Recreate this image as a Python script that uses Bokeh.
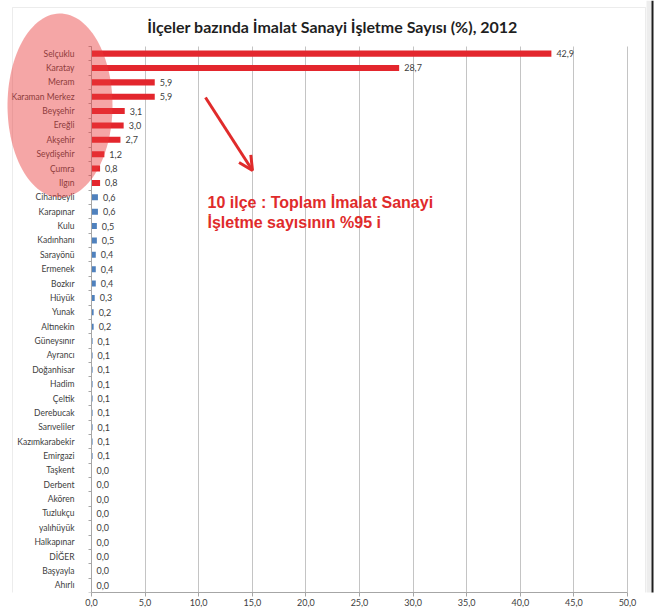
import numpy as np
from bokeh.plotting import figure
from bokeh.models import (ColumnDataSource, Range1d, FixedTicker, Label, LinearAxis, Grid,
                          Arrow, OpenHead, PolyAnnotation, BoxAnnotation)
from bokeh.core.properties import value
from bokeh.embed import file_html
from bokeh.resources import INLINE

districts = ["Selçuklu", "Karatay", "Meram", "Karaman Merkez", "Beyşehir", "Ereğli",
             "Akşehir", "Seydişehir", "Çumra", "Ilgın", "Cihanbeyli", "Karapınar", "Kulu",
             "Kadınhanı", "Sarayönü", "Ermenek", "Bozkır", "Hüyük", "Yunak", "Altınekin",
             "Güneysınır", "Ayrancı", "Doğanhisar", "Hadim", "Çeltik", "Derebucak",
             "Sarıveliler", "Kazımkarabekir", "Emirgazi", "Taşkent", "Derbent", "Akören",
             "Tuzlukçu", "yalıhüyük", "Halkapınar", "DİĞER", "Başyayla", "Ahırlı"]
shares = [42.9, 28.7, 5.9, 5.9, 3.1, 3.0, 2.7, 1.2, 0.8, 0.8, 0.6, 0.6, 0.5, 0.5, 0.4,
          0.4, 0.4, 0.3, 0.2, 0.2, 0.1, 0.1, 0.1, 0.1, 0.1, 0.1, 0.1, 0.1, 0.1, 0.0, 0.0,
          0.0, 0.0, 0.0, 0.0, 0.0, 0.0, 0.0]
highlight_count = 10
x_ticks = [0, 5, 10, 15, 20, 25, 30, 35, 40, 45, 50]
title_text = "İlçeler bazında İmalat Sanayi İşletme Sayısı (%), 2012"
note_lines = ["10 ilçe : Toplam İmalat Sanayi", "İşletme sayısının  %95 i"]

RED = "#E3262D"
BLUE = "#4F81BD"
NOTE_RED = "#E02B2B"
GRID = "#C4C4C4"
AXIS = "#A6A6A6"
LABEL = "#404040"

n = len(districts)
rows = list(range(n))
colors = [RED if i < highlight_count else BLUE for i in rows]
labels = [f"{v:.1f}".replace(".", ",") for v in shares]
src = ColumnDataSource(dict(k=rows, v=shares, c=colors, lab=labels))

# layout constants (pixels)
W, H = 664, 615
X0_PX, X50_PX = 91, 627          # where 0 and 50 fall on the canvas
FRAME_BOTTOM = 592
ROW_PX = 14.37
px_per_unit = (X50_PX - X0_PX) / 50.0
x_lo = -X0_PX / px_per_unit
x_hi = 50 + (W - X50_PX) / px_per_unit
y_bottom = n - 0.5
y_top = y_bottom - FRAME_BOTTOM / ROW_PX

p = figure(width=W, height=H,
           x_range=Range1d(x_lo, x_hi), y_range=Range1d(y_bottom, y_top),
           x_axis_location=None, y_axis_location=None,
           output_backend="svg", toolbar_location=None,
           min_border_left=0, min_border_right=0, min_border_top=0,
           min_border_bottom=H - FRAME_BOTTOM)
p.outline_line_color = None
p.background_fill_color = "white"
p.border_fill_color = "white"
p.xgrid.visible = False
p.ygrid.visible = False

# vertical grid lines
p.add_layout(Grid(dimension=0, ticker=FixedTicker(ticks=x_ticks),
                  cross_bounds=(-0.5, n - 0.5), grid_line_color=GRID))

p.hbar(y="k", left=0, right="v", height=0.42, fill_color="c", line_color=None, source=src)
p.text(x="v", y="k", text="lab", x_offset=5, text_baseline="middle", text_align="left",
       text_font=value("Lato"), text_font_size="9px", text_color=LABEL, source=src)

# x axis
xaxis = LinearAxis(ticker=FixedTicker(ticks=x_ticks), bounds=(0, 50))
xaxis.major_label_overrides = {t: f"{t:.1f}".replace(".", ",") for t in x_ticks}
xaxis.major_tick_out = 4
xaxis.major_tick_in = 0
xaxis.minor_tick_line_color = None
xaxis.major_label_standoff = 2
xaxis.axis_line_color = AXIS
xaxis.major_tick_line_color = AXIS
xaxis.major_label_text_font = "Lato"
xaxis.major_label_text_font_size = "9px"
xaxis.major_label_text_color = LABEL
p.add_layout(xaxis, "below")

# category axis drawn at x = 0
yaxis = LinearAxis(ticker=FixedTicker(ticks=rows, minor_ticks=[r - 0.5 for r in rows] + [n - 0.5]),
                   fixed_location=0, bounds=(-0.5, n - 0.5))
yaxis.major_label_overrides = {k: d for k, d in zip(rows, districts)}
yaxis.major_tick_line_color = None
yaxis.minor_tick_out = 3
yaxis.minor_tick_in = 0
yaxis.minor_tick_line_color = AXIS
yaxis.major_label_standoff = 11
yaxis.axis_line_color = AXIS
yaxis.major_label_text_font = "Lato"
yaxis.major_label_text_font_size = "8.5px"
yaxis.major_label_text_color = LABEL
p.add_layout(yaxis, "left")

# chart border and page edge
p.add_layout(BoxAnnotation(left=12, right=645, top=7, bottom=640,
                           left_units="canvas", right_units="canvas",
                           top_units="canvas", bottom_units="canvas",
                           fill_color=None, line_color="#C0C0C0", line_width=1))
p.add_layout(BoxAnnotation(left=646, right=651, top=0, bottom=640,
                           left_units="canvas", right_units="canvas",
                           top_units="canvas", bottom_units="canvas",
                           fill_color="#EDEDED", fill_alpha=1, line_color=None))
p.add_layout(BoxAnnotation(left=651, right=653, top=0, bottom=640,
                           left_units="canvas", right_units="canvas",
                           top_units="canvas", bottom_units="canvas",
                           fill_color="#1E1E1E", fill_alpha=1, line_color=None))

# title
p.add_layout(Label(x=332, y=26, x_units="canvas", y_units="canvas", text=title_text,
                   text_align="center", text_baseline="middle", text_font="Lato",
                   text_font_style="bold", text_font_size="16px", text_color="#1F1F1F"))

# highlight ellipse
t = np.linspace(0, 2 * np.pi, 120)
cx, cy, ax, ay = 59.5, 105, 52.5, 92
p.add_layout(PolyAnnotation(xs=list(cx + ax * np.cos(t)), ys=list(cy + ay * np.sin(t)),
                            xs_units="canvas", ys_units="canvas",
                            fill_color="#E83A3A", fill_alpha=0.45, line_color=None,
                            level="annotation"))

# arrow
p.add_layout(Arrow(x_start=205, y_start=97, x_end=252, y_end=170,
                   start_units="canvas", end_units="canvas",
                   line_color=NOTE_RED, line_width=3,
                   end=OpenHead(size=14, line_color=NOTE_RED, line_width=3)))

# note text
for i, line in enumerate(note_lines):
    p.add_layout(Label(x=207, y=202 + 20 * i, x_units="canvas", y_units="canvas", text=line,
                       text_align="left", text_baseline="alphabetic",
                       text_font="Liberation Sans", text_font_style="bold",
                       text_font_size="16px", text_color=NOTE_RED))

open("out.html", "w").write(file_html(p, INLINE))
